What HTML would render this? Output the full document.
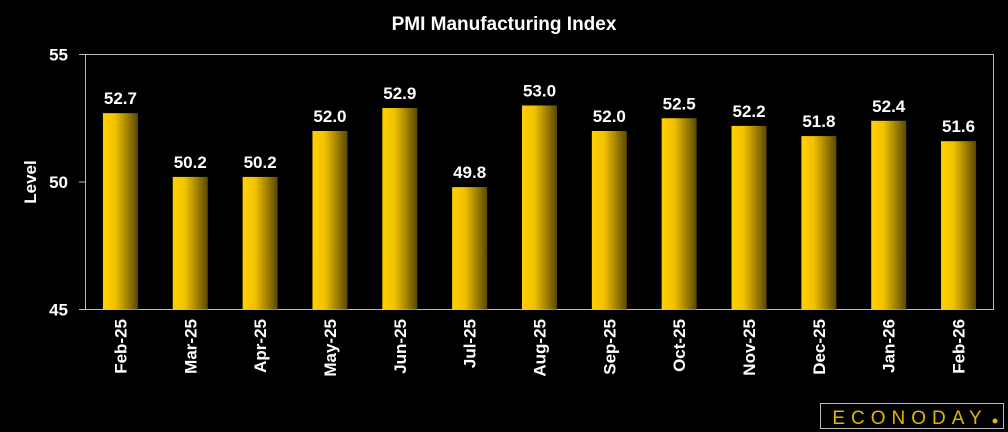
<!DOCTYPE html>
<html><head><meta charset="utf-8"><style>
body{margin:0;background:#000;}
svg{display:block;font-family:"Liberation Sans",sans-serif;}
</style></head><body>
<svg id="chart" width="1008" height="432" xmlns="http://www.w3.org/2000/svg">
<defs><linearGradient id="bg" x1="0" x2="1" y1="0" y2="0">
<stop offset="0" stop-color="#ffd000"/><stop offset="0.35" stop-color="#f2c200"/><stop offset="1" stop-color="#5a4800"/></linearGradient></defs>
<rect width="1008" height="432" fill="#000"/>
<text x="504" y="30" fill="#fff" font-size="19" font-weight="bold" text-anchor="middle">PMI Manufacturing Index</text>
<text transform="translate(36,182) rotate(-90)" fill="#fff" font-size="17" font-weight="bold" text-anchor="middle">Level</text>
<rect x="85.5" y="54.5" width="908" height="255" fill="none" stroke="#bbb" stroke-width="1"/>
<g id="ticks"></g><g id="bars"></g>
<g>
<rect x="820.5" y="403.5" width="183" height="25" fill="#000" stroke="#bbb" stroke-width="1"/>
<text x="910" y="424" fill="#e0b800" font-size="19" text-anchor="middle" letter-spacing="6">ECONODAY</text>
<circle cx="995" cy="421" r="2.5" fill="#e0b800"/>
</g>
</svg>
<script>
const categories=["Feb-25","Mar-25","Apr-25","May-25","Jun-25","Jul-25","Aug-25","Sep-25","Oct-25","Nov-25","Dec-25","Jan-26","Feb-26"];
const values=[52.7,50.2,50.2,52.0,52.9,49.8,53.0,52.0,52.5,52.2,51.8,52.4,51.6];
const yTicks=[45,50,55];
const NS="http://www.w3.org/2000/svg";
const L=85.5,R=993.5,T=54.5,B=309.5,yMin=45,yMax=55;
const y=v=>B-(v-yMin)/(yMax-yMin)*(B-T);
const cw=(R-L)/categories.length;
const x=i=>L+cw*(i+0.5);
function mk(tag,attrs,parent){const e=document.createElementNS(NS,tag);for(const k in attrs)e.setAttribute(k,attrs[k]);parent.appendChild(e);return e;}
const tg=document.getElementById('ticks'),bg=document.getElementById('bars');
yTicks.forEach(t=>{
 const l=mk('line',{x1:79,x2:L,y1:y(t),y2:y(t),stroke:'#bbb'},tg);
 
 
 const tx=mk('text',{x:68,y:y(t)+6,fill:'#fff','font-size':17,'font-weight':'bold','text-anchor':'end'},tg);
 tx.textContent=t;
 
 
});
values.forEach((v,i)=>{
 const cx=x(i),bw=35;
 const r=mk('rect',{x:cx-bw/2,y:y(v),width:bw,height:B-y(v),fill:'url(#bg)'},bg);
 
 
 const t=mk('text',{x:cx,y:y(v)-9,fill:'#fff','font-size':17,'font-weight':'bold','text-anchor':'middle'},bg);
 t.textContent=v.toFixed(1);
 
 
 const c=mk('text',{transform:`translate(${cx+6},${319}) rotate(-90)`,fill:'#fff','font-size':17,'font-weight':'bold','text-anchor':'end'},bg);
 c.textContent=categories[i];
 
 
});
</script>
</body></html>
